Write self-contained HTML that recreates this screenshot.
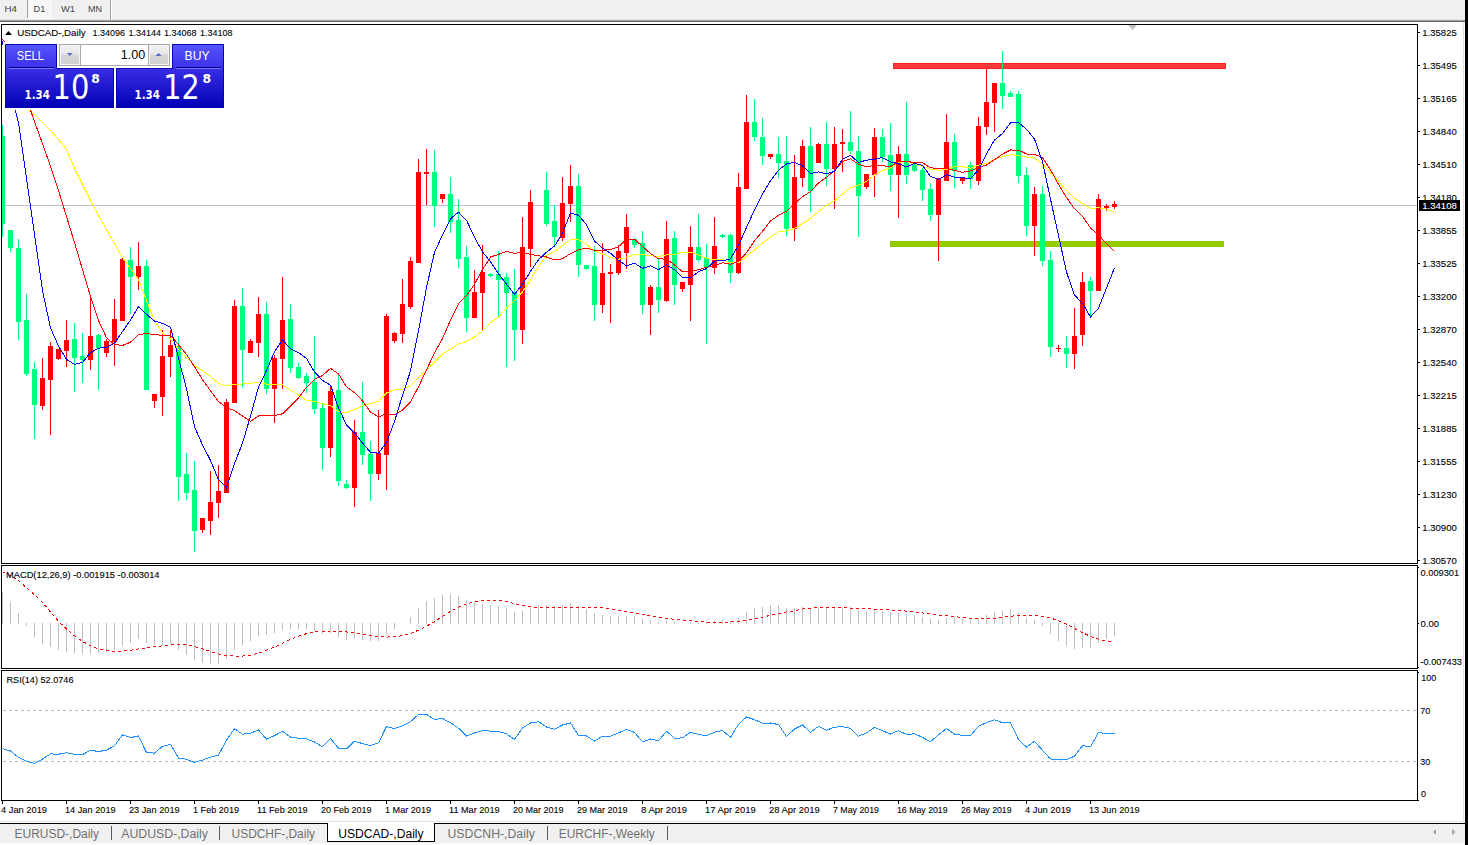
<!DOCTYPE html>
<html><head><meta charset="utf-8"><title>USDCAD-,Daily</title>
<style>html,body{margin:0;padding:0;background:#fff;overflow:hidden;width:1468px;height:845px}svg{display:block}</style>
</head><body>
<svg width="1468" height="845" viewBox="0 0 1468 845"><rect x="0" y="0" width="1468" height="845" fill="#ffffff" />
<rect x="0" y="0" width="1465" height="20" fill="#f0f0f0" />
<rect x="0" y="19" width="1465" height="1" fill="#e6e6e6" />
<rect x="0" y="20" width="1465" height="1" fill="#a0a0a0" />
<rect x="0" y="21" width="1465" height="1" fill="#6a6a6a" />
<defs><pattern id="chk" width="2" height="2" patternUnits="userSpaceOnUse"><rect width="2" height="2" fill="#f0f0f0"/><rect width="1" height="1" fill="#ffffff"/><rect x="1" y="1" width="1" height="1" fill="#ffffff"/></pattern><linearGradient id="sellTop" x1="0" y1="0" x2="0" y2="1"><stop offset="0" stop-color="#5656ff"/><stop offset="1" stop-color="#3c30e6"/></linearGradient><linearGradient id="sellBot" x1="0" y1="0" x2="0" y2="1"><stop offset="0" stop-color="#3a2ee6"/><stop offset="1" stop-color="#0000b4"/></linearGradient><linearGradient id="btn" x1="0" y1="0" x2="0" y2="1"><stop offset="0" stop-color="#f2f2f2"/><stop offset="0.45" stop-color="#e6e6e6"/><stop offset="0.5" stop-color="#d6d6d6"/><stop offset="1" stop-color="#d0d0d0"/></linearGradient></defs>
<rect x="28" y="0" width="24" height="18" fill="url(#chk)" />
<rect x="27" y="0" width="1" height="18" fill="#a0a0a0" />
<rect x="27" y="18" width="26" height="1" fill="#ffffff" />
<rect x="110" y="0" width="1" height="20" fill="#a0a0a0" />
<rect x="111" y="0" width="1" height="20" fill="#ffffff" />
<g font-family="Liberation Sans, sans-serif">
<text x="4.5" y="12" font-size="9.8" fill="#444444" textLength="12.5" lengthAdjust="spacingAndGlyphs" stroke="#444444" stroke-width="0.01" >H4</text>
<text x="33.5" y="12" font-size="9.8" fill="#444444" textLength="11.8" lengthAdjust="spacingAndGlyphs" stroke="#444444" stroke-width="0.01" >D1</text>
<text x="61" y="12" font-size="9.8" fill="#444444" textLength="14" lengthAdjust="spacingAndGlyphs" stroke="#444444" stroke-width="0.01" >W1</text>
<text x="88" y="12" font-size="9.8" fill="#444444" textLength="14" lengthAdjust="spacingAndGlyphs" stroke="#444444" stroke-width="0.01" >MN</text>
</g>
<rect x="1465" y="0" width="3" height="845" fill="#000000" />
<rect x="1463" y="22" width="1" height="800" fill="#e3e3e3" />
<rect x="0" y="821" width="1464" height="1" fill="#e3e3e3" />
<rect x="0" y="824" width="1465" height="21" fill="#f0f0f0" />
<rect x="0" y="843" width="1465" height="1" fill="#fafafa" />
<rect x="0" y="844" width="1465" height="1" fill="#fafafa" />
<rect x="0" y="823" width="1465" height="1" fill="#000000" />
<rect x="1" y="24" width="1417" height="1" fill="#000" />
<rect x="1" y="563" width="1417" height="1" fill="#000" />
<rect x="1" y="24" width="1" height="540" fill="#000" />
<rect x="1417" y="24" width="1" height="540" fill="#000" />
<rect x="1" y="565" width="1417" height="1" fill="#000" />
<rect x="1" y="668" width="1417" height="1" fill="#000" />
<rect x="1" y="565" width="1" height="104" fill="#000" />
<rect x="1417" y="565" width="1" height="104" fill="#000" />
<rect x="1" y="670" width="1417" height="1" fill="#000" />
<rect x="1" y="800" width="1417" height="1" fill="#000" />
<rect x="1" y="670" width="1" height="131" fill="#000" />
<rect x="1417" y="670" width="1" height="131" fill="#000" />
<clipPath id="cm"><rect x="2" y="25" width="1415" height="538"/></clipPath>
<g clip-path="url(#cm)" shape-rendering="crispEdges">
<rect x="2" y="205" width="1415" height="1" fill="#c0c0c0" />
<rect x="893" y="63" width="333" height="6" fill="#f83a3a" />
<rect x="893.5" y="63.5" width="332" height="5" fill="none" stroke="#ff2222" stroke-width="1"/>
<rect x="890" y="241" width="334" height="6" fill="#99cc00" />
<rect x="890.5" y="241.5" width="333" height="5" fill="none" stroke="#8cc800" stroke-width="1"/>
<rect x="2" y="125" width="1" height="112" fill="#00ff7f" />
<rect x="0" y="136" width="5" height="88" fill="#00ff7f" />
<rect x="10" y="230" width="1" height="22" fill="#00ff7f" />
<rect x="8" y="230" width="5" height="18" fill="#00ff7f" />
<rect x="18" y="239" width="1" height="101" fill="#00ff7f" />
<rect x="16" y="248" width="5" height="74" fill="#00ff7f" />
<rect x="26" y="294" width="1" height="82" fill="#00ff7f" />
<rect x="24" y="320" width="5" height="54" fill="#00ff7f" />
<rect x="34" y="362" width="1" height="77" fill="#00ff7f" />
<rect x="32" y="369" width="5" height="36" fill="#00ff7f" />
<rect x="42" y="358" width="1" height="52" fill="#ff0000" />
<rect x="40" y="378" width="5" height="28" fill="#ff0000" />
<rect x="50" y="342" width="1" height="93" fill="#ff0000" />
<rect x="48" y="346" width="5" height="34" fill="#ff0000" />
<rect x="58" y="349" width="1" height="11" fill="#ff0000" />
<rect x="56" y="349" width="5" height="10" fill="#ff0000" />
<rect x="66" y="320" width="1" height="47" fill="#ff0000" />
<rect x="64" y="340" width="5" height="11" fill="#ff0000" />
<rect x="74" y="323" width="1" height="69" fill="#00ff7f" />
<rect x="72" y="339" width="5" height="19" fill="#00ff7f" />
<rect x="82" y="333" width="1" height="50" fill="#00ff7f" />
<rect x="80" y="356" width="5" height="4" fill="#00ff7f" />
<rect x="90" y="297" width="1" height="73" fill="#ff0000" />
<rect x="88" y="336" width="5" height="24" fill="#ff0000" />
<rect x="98" y="334" width="1" height="56" fill="#00ff7f" />
<rect x="96" y="335" width="5" height="13" fill="#00ff7f" />
<rect x="106" y="339" width="1" height="18" fill="#ff0000" />
<rect x="104" y="341" width="5" height="12" fill="#ff0000" />
<rect x="114" y="299" width="1" height="67" fill="#ff0000" />
<rect x="112" y="319" width="5" height="23" fill="#ff0000" />
<rect x="122" y="258" width="1" height="63" fill="#ff0000" />
<rect x="120" y="259" width="5" height="62" fill="#ff0000" />
<rect x="130" y="247" width="1" height="67" fill="#00ff7f" />
<rect x="128" y="260" width="5" height="17" fill="#00ff7f" />
<rect x="138" y="242" width="1" height="48" fill="#ff0000" />
<rect x="136" y="266" width="5" height="11" fill="#ff0000" />
<rect x="146" y="260" width="1" height="130" fill="#00ff7f" />
<rect x="144" y="266" width="5" height="124" fill="#00ff7f" />
<rect x="154" y="394" width="1" height="14" fill="#ff0000" />
<rect x="152" y="394" width="5" height="7" fill="#ff0000" />
<rect x="162" y="330" width="1" height="86" fill="#ff0000" />
<rect x="160" y="356" width="5" height="41" fill="#ff0000" />
<rect x="170" y="330" width="1" height="47" fill="#ff0000" />
<rect x="168" y="345" width="5" height="12" fill="#ff0000" />
<rect x="178" y="336" width="1" height="165" fill="#00ff7f" />
<rect x="176" y="346" width="5" height="131" fill="#00ff7f" />
<rect x="186" y="453" width="1" height="47" fill="#00ff7f" />
<rect x="184" y="474" width="5" height="19" fill="#00ff7f" />
<rect x="194" y="461" width="1" height="91" fill="#00ff7f" />
<rect x="192" y="490" width="5" height="41" fill="#00ff7f" />
<rect x="202" y="518" width="1" height="15" fill="#ff0000" />
<rect x="200" y="518" width="5" height="12" fill="#ff0000" />
<rect x="210" y="471" width="1" height="64" fill="#ff0000" />
<rect x="208" y="502" width="5" height="19" fill="#ff0000" />
<rect x="218" y="465" width="1" height="53" fill="#ff0000" />
<rect x="216" y="491" width="5" height="12" fill="#ff0000" />
<rect x="226" y="399" width="1" height="94" fill="#ff0000" />
<rect x="224" y="402" width="5" height="91" fill="#ff0000" />
<rect x="234" y="300" width="1" height="103" fill="#ff0000" />
<rect x="232" y="306" width="5" height="97" fill="#ff0000" />
<rect x="242" y="288" width="1" height="99" fill="#00ff7f" />
<rect x="240" y="306" width="5" height="44" fill="#00ff7f" />
<rect x="250" y="339" width="1" height="14" fill="#ff0000" />
<rect x="248" y="341" width="5" height="12" fill="#ff0000" />
<rect x="258" y="297" width="1" height="60" fill="#ff0000" />
<rect x="256" y="314" width="5" height="29" fill="#ff0000" />
<rect x="266" y="302" width="1" height="92" fill="#00ff7f" />
<rect x="264" y="314" width="5" height="75" fill="#00ff7f" />
<rect x="274" y="355" width="1" height="68" fill="#ff0000" />
<rect x="272" y="358" width="5" height="31" fill="#ff0000" />
<rect x="282" y="277" width="1" height="112" fill="#ff0000" />
<rect x="280" y="320" width="5" height="39" fill="#ff0000" />
<rect x="290" y="304" width="1" height="69" fill="#00ff7f" />
<rect x="288" y="319" width="5" height="49" fill="#00ff7f" />
<rect x="298" y="363" width="1" height="16" fill="#00ff7f" />
<rect x="296" y="367" width="5" height="11" fill="#00ff7f" />
<rect x="306" y="373" width="1" height="20" fill="#00ff7f" />
<rect x="304" y="376" width="5" height="7" fill="#00ff7f" />
<rect x="314" y="336" width="1" height="78" fill="#00ff7f" />
<rect x="312" y="382" width="5" height="27" fill="#00ff7f" />
<rect x="322" y="404" width="1" height="66" fill="#00ff7f" />
<rect x="320" y="408" width="5" height="40" fill="#00ff7f" />
<rect x="330" y="385" width="1" height="72" fill="#ff0000" />
<rect x="328" y="391" width="5" height="57" fill="#ff0000" />
<rect x="338" y="375" width="1" height="111" fill="#00ff7f" />
<rect x="336" y="390" width="5" height="91" fill="#00ff7f" />
<rect x="346" y="480" width="1" height="9" fill="#00ff7f" />
<rect x="344" y="484" width="5" height="4" fill="#00ff7f" />
<rect x="354" y="420" width="1" height="87" fill="#ff0000" />
<rect x="352" y="432" width="5" height="56" fill="#ff0000" />
<rect x="362" y="382" width="1" height="83" fill="#00ff7f" />
<rect x="360" y="432" width="5" height="23" fill="#00ff7f" />
<rect x="370" y="441" width="1" height="60" fill="#00ff7f" />
<rect x="368" y="454" width="5" height="20" fill="#00ff7f" />
<rect x="378" y="410" width="1" height="70" fill="#ff0000" />
<rect x="376" y="453" width="5" height="21" fill="#ff0000" />
<rect x="386" y="314" width="1" height="176" fill="#ff0000" />
<rect x="384" y="316" width="5" height="139" fill="#ff0000" />
<rect x="394" y="332" width="1" height="11" fill="#ff0000" />
<rect x="392" y="333" width="5" height="8" fill="#ff0000" />
<rect x="402" y="279" width="1" height="64" fill="#ff0000" />
<rect x="400" y="304" width="5" height="30" fill="#ff0000" />
<rect x="410" y="257" width="1" height="52" fill="#ff0000" />
<rect x="408" y="261" width="5" height="46" fill="#ff0000" />
<rect x="418" y="159" width="1" height="104" fill="#ff0000" />
<rect x="416" y="172" width="5" height="91" fill="#ff0000" />
<rect x="426" y="149" width="1" height="56" fill="#ff0000" />
<rect x="424" y="172" width="5" height="2" fill="#ff0000" />
<rect x="434" y="150" width="1" height="77" fill="#00ff7f" />
<rect x="432" y="172" width="5" height="34" fill="#00ff7f" />
<rect x="442" y="194" width="1" height="9" fill="#ff0000" />
<rect x="440" y="194" width="5" height="5" fill="#ff0000" />
<rect x="450" y="177" width="1" height="56" fill="#00ff7f" />
<rect x="448" y="194" width="5" height="28" fill="#00ff7f" />
<rect x="458" y="199" width="1" height="69" fill="#00ff7f" />
<rect x="456" y="220" width="5" height="39" fill="#00ff7f" />
<rect x="466" y="246" width="1" height="86" fill="#00ff7f" />
<rect x="464" y="257" width="5" height="61" fill="#00ff7f" />
<rect x="474" y="270" width="1" height="48" fill="#ff0000" />
<rect x="472" y="292" width="5" height="26" fill="#ff0000" />
<rect x="482" y="245" width="1" height="85" fill="#ff0000" />
<rect x="480" y="272" width="5" height="21" fill="#ff0000" />
<rect x="490" y="273" width="1" height="4" fill="#00ff7f" />
<rect x="488" y="274" width="5" height="2" fill="#00ff7f" />
<rect x="498" y="251" width="1" height="66" fill="#00ff7f" />
<rect x="496" y="274" width="5" height="6" fill="#00ff7f" />
<rect x="506" y="273" width="1" height="94" fill="#00ff7f" />
<rect x="504" y="277" width="5" height="16" fill="#00ff7f" />
<rect x="514" y="269" width="1" height="92" fill="#00ff7f" />
<rect x="512" y="292" width="5" height="38" fill="#00ff7f" />
<rect x="522" y="217" width="1" height="127" fill="#ff0000" />
<rect x="520" y="247" width="5" height="83" fill="#ff0000" />
<rect x="530" y="190" width="1" height="77" fill="#ff0000" />
<rect x="528" y="202" width="5" height="47" fill="#ff0000" />
<rect x="546" y="172" width="1" height="54" fill="#00ff7f" />
<rect x="544" y="190" width="5" height="34" fill="#00ff7f" />
<rect x="554" y="205" width="1" height="41" fill="#00ff7f" />
<rect x="552" y="221" width="5" height="16" fill="#00ff7f" />
<rect x="562" y="177" width="1" height="64" fill="#ff0000" />
<rect x="560" y="203" width="5" height="35" fill="#ff0000" />
<rect x="570" y="165" width="1" height="57" fill="#ff0000" />
<rect x="568" y="186" width="5" height="18" fill="#ff0000" />
<rect x="578" y="174" width="1" height="103" fill="#00ff7f" />
<rect x="576" y="186" width="5" height="79" fill="#00ff7f" />
<rect x="586" y="265" width="1" height="5" fill="#00ff7f" />
<rect x="584" y="265" width="5" height="4" fill="#00ff7f" />
<rect x="594" y="246" width="1" height="75" fill="#00ff7f" />
<rect x="592" y="266" width="5" height="39" fill="#00ff7f" />
<rect x="602" y="243" width="1" height="70" fill="#ff0000" />
<rect x="600" y="273" width="5" height="32" fill="#ff0000" />
<rect x="610" y="264" width="1" height="59" fill="#ff0000" />
<rect x="608" y="272" width="5" height="2" fill="#ff0000" />
<rect x="618" y="245" width="1" height="30" fill="#ff0000" />
<rect x="616" y="251" width="5" height="22" fill="#ff0000" />
<rect x="626" y="214" width="1" height="55" fill="#ff0000" />
<rect x="624" y="227" width="5" height="26" fill="#ff0000" />
<rect x="634" y="238" width="1" height="10" fill="#00ff7f" />
<rect x="632" y="239" width="5" height="6" fill="#00ff7f" />
<rect x="642" y="231" width="1" height="83" fill="#00ff7f" />
<rect x="640" y="243" width="5" height="62" fill="#00ff7f" />
<rect x="650" y="285" width="1" height="50" fill="#ff0000" />
<rect x="648" y="287" width="5" height="18" fill="#ff0000" />
<rect x="658" y="258" width="1" height="55" fill="#00ff7f" />
<rect x="656" y="287" width="5" height="13" fill="#00ff7f" />
<rect x="666" y="221" width="1" height="81" fill="#ff0000" />
<rect x="664" y="239" width="5" height="62" fill="#ff0000" />
<rect x="674" y="231" width="1" height="74" fill="#00ff7f" />
<rect x="672" y="238" width="5" height="47" fill="#00ff7f" />
<rect x="682" y="282" width="1" height="10" fill="#ff0000" />
<rect x="680" y="282" width="5" height="7" fill="#ff0000" />
<rect x="690" y="226" width="1" height="95" fill="#ff0000" />
<rect x="688" y="247" width="5" height="38" fill="#ff0000" />
<rect x="698" y="214" width="1" height="48" fill="#00ff7f" />
<rect x="696" y="247" width="5" height="13" fill="#00ff7f" />
<rect x="706" y="244" width="1" height="100" fill="#00ff7f" />
<rect x="704" y="258" width="5" height="10" fill="#00ff7f" />
<rect x="714" y="217" width="1" height="57" fill="#ff0000" />
<rect x="712" y="246" width="5" height="22" fill="#ff0000" />
<rect x="722" y="234" width="1" height="4" fill="#00ff7f" />
<rect x="720" y="235" width="5" height="2" fill="#00ff7f" />
<rect x="730" y="234" width="1" height="49" fill="#00ff7f" />
<rect x="728" y="235" width="5" height="38" fill="#00ff7f" />
<rect x="738" y="173" width="1" height="101" fill="#ff0000" />
<rect x="736" y="187" width="5" height="86" fill="#ff0000" />
<rect x="746" y="95" width="1" height="94" fill="#ff0000" />
<rect x="744" y="122" width="5" height="67" fill="#ff0000" />
<rect x="754" y="99" width="1" height="42" fill="#00ff7f" />
<rect x="752" y="122" width="5" height="15" fill="#00ff7f" />
<rect x="762" y="118" width="1" height="47" fill="#00ff7f" />
<rect x="760" y="137" width="5" height="19" fill="#00ff7f" />
<rect x="770" y="154" width="1" height="5" fill="#ff0000" />
<rect x="768" y="154" width="5" height="3" fill="#ff0000" />
<rect x="778" y="137" width="1" height="41" fill="#00ff7f" />
<rect x="776" y="154" width="5" height="9" fill="#00ff7f" />
<rect x="786" y="136" width="1" height="100" fill="#00ff7f" />
<rect x="784" y="161" width="5" height="68" fill="#00ff7f" />
<rect x="794" y="155" width="1" height="86" fill="#ff0000" />
<rect x="792" y="177" width="5" height="52" fill="#ff0000" />
<rect x="802" y="140" width="1" height="47" fill="#ff0000" />
<rect x="800" y="146" width="5" height="32" fill="#ff0000" />
<rect x="810" y="127" width="1" height="85" fill="#00ff7f" />
<rect x="808" y="146" width="5" height="45" fill="#00ff7f" />
<rect x="818" y="143" width="1" height="20" fill="#ff0000" />
<rect x="816" y="144" width="5" height="19" fill="#ff0000" />
<rect x="826" y="122" width="1" height="64" fill="#00ff7f" />
<rect x="824" y="144" width="5" height="25" fill="#00ff7f" />
<rect x="834" y="127" width="1" height="82" fill="#ff0000" />
<rect x="832" y="144" width="5" height="25" fill="#ff0000" />
<rect x="842" y="129" width="1" height="43" fill="#ff0000" />
<rect x="840" y="142" width="5" height="2" fill="#ff0000" />
<rect x="850" y="111" width="1" height="43" fill="#00ff7f" />
<rect x="848" y="142" width="5" height="9" fill="#00ff7f" />
<rect x="858" y="136" width="1" height="101" fill="#00ff7f" />
<rect x="856" y="151" width="5" height="45" fill="#00ff7f" />
<rect x="866" y="174" width="1" height="15" fill="#ff0000" />
<rect x="864" y="174" width="5" height="13" fill="#ff0000" />
<rect x="874" y="128" width="1" height="69" fill="#ff0000" />
<rect x="872" y="137" width="5" height="38" fill="#ff0000" />
<rect x="882" y="129" width="1" height="33" fill="#00ff7f" />
<rect x="880" y="137" width="5" height="20" fill="#00ff7f" />
<rect x="890" y="123" width="1" height="68" fill="#00ff7f" />
<rect x="888" y="155" width="5" height="20" fill="#00ff7f" />
<rect x="898" y="146" width="1" height="72" fill="#ff0000" />
<rect x="896" y="154" width="5" height="21" fill="#ff0000" />
<rect x="906" y="102" width="1" height="82" fill="#00ff7f" />
<rect x="904" y="154" width="5" height="21" fill="#00ff7f" />
<rect x="914" y="162" width="1" height="10" fill="#00ff7f" />
<rect x="912" y="162" width="5" height="9" fill="#00ff7f" />
<rect x="922" y="168" width="1" height="33" fill="#00ff7f" />
<rect x="920" y="170" width="5" height="20" fill="#00ff7f" />
<rect x="930" y="183" width="1" height="38" fill="#00ff7f" />
<rect x="928" y="189" width="5" height="26" fill="#00ff7f" />
<rect x="938" y="178" width="1" height="83" fill="#ff0000" />
<rect x="936" y="178" width="5" height="37" fill="#ff0000" />
<rect x="946" y="114" width="1" height="67" fill="#ff0000" />
<rect x="944" y="142" width="5" height="39" fill="#ff0000" />
<rect x="954" y="134" width="1" height="54" fill="#00ff7f" />
<rect x="952" y="142" width="5" height="29" fill="#00ff7f" />
<rect x="962" y="178" width="1" height="6" fill="#ff0000" />
<rect x="960" y="178" width="5" height="3" fill="#ff0000" />
<rect x="970" y="162" width="1" height="27" fill="#00ff7f" />
<rect x="968" y="165" width="5" height="14" fill="#00ff7f" />
<rect x="978" y="117" width="1" height="68" fill="#ff0000" />
<rect x="976" y="126" width="5" height="55" fill="#ff0000" />
<rect x="986" y="69" width="1" height="66" fill="#ff0000" />
<rect x="984" y="102" width="5" height="25" fill="#ff0000" />
<rect x="994" y="83" width="1" height="49" fill="#ff0000" />
<rect x="992" y="83" width="5" height="20" fill="#ff0000" />
<rect x="1002" y="51" width="1" height="58" fill="#00ff7f" />
<rect x="1000" y="83" width="5" height="13" fill="#00ff7f" />
<rect x="1010" y="91" width="1" height="6" fill="#00ff7f" />
<rect x="1008" y="93" width="5" height="4" fill="#00ff7f" />
<rect x="1018" y="91" width="1" height="92" fill="#00ff7f" />
<rect x="1016" y="94" width="5" height="82" fill="#00ff7f" />
<rect x="1026" y="167" width="1" height="69" fill="#00ff7f" />
<rect x="1024" y="175" width="5" height="51" fill="#00ff7f" />
<rect x="1034" y="187" width="1" height="69" fill="#ff0000" />
<rect x="1032" y="194" width="5" height="32" fill="#ff0000" />
<rect x="1042" y="186" width="1" height="80" fill="#00ff7f" />
<rect x="1040" y="194" width="5" height="67" fill="#00ff7f" />
<rect x="1050" y="251" width="1" height="106" fill="#00ff7f" />
<rect x="1048" y="260" width="5" height="87" fill="#00ff7f" />
<rect x="1058" y="345" width="1" height="7" fill="#ff0000" />
<rect x="1056" y="348" width="5" height="1" fill="#ff0000" />
<rect x="1066" y="336" width="1" height="32" fill="#00ff7f" />
<rect x="1064" y="348" width="5" height="6" fill="#00ff7f" />
<rect x="1074" y="308" width="1" height="61" fill="#ff0000" />
<rect x="1072" y="336" width="5" height="18" fill="#ff0000" />
<rect x="1082" y="272" width="1" height="74" fill="#ff0000" />
<rect x="1080" y="282" width="5" height="53" fill="#ff0000" />
<rect x="1090" y="277" width="1" height="40" fill="#00ff7f" />
<rect x="1088" y="281" width="5" height="10" fill="#00ff7f" />
<rect x="1098" y="194" width="1" height="97" fill="#ff0000" />
<rect x="1096" y="199" width="5" height="92" fill="#ff0000" />
<rect x="1106" y="204" width="1" height="7" fill="#ff0000" />
<rect x="1104" y="206" width="5" height="2" fill="#ff0000" />
<rect x="1114" y="201" width="1" height="8" fill="#ff0000" />
<rect x="1112" y="204" width="5" height="3" fill="#ff0000" />
<polyline points="2.5,98.5 10.5,102.0 18.5,105.5 26.5,109.0 34.5,114.5 42.5,122.5 50.5,130.5 58.5,139.5 66.5,149.5 74.5,168.5 82.5,184.5 90.5,200.5 98.5,215.5 106.5,229.5 114.5,243.5 122.5,257.5 130.5,268.5 138.5,279.5 146.5,300.5 154.5,320.5 162.5,332.9 170.5,338.7 178.5,349.6 186.5,357.8 194.5,365.3 202.5,370.7 210.5,376.6 218.5,383.5 226.5,386.0 234.5,384.4 242.5,384.0 250.5,383.2 258.5,382.1 266.5,384.1 274.5,384.9 282.5,384.9 290.5,390.1 298.5,394.9 306.5,400.4 314.5,401.3 322.5,403.8 330.5,405.5 338.5,411.9 346.5,412.4 354.5,409.5 362.5,405.9 370.5,403.7 378.5,401.4 386.5,393.0 394.5,389.8 402.5,389.7 410.5,385.5 418.5,377.4 426.5,370.6 434.5,361.9 442.5,354.1 450.5,349.4 458.5,344.2 466.5,341.3 474.5,337.0 482.5,330.6 490.5,322.4 498.5,317.1 506.5,308.1 514.5,300.6 522.5,291.8 530.5,279.8 538.5,266.4 546.5,255.4 554.5,251.6 562.5,245.4 570.5,239.8 578.5,239.9 586.5,244.5 594.5,250.8 602.5,254.0 610.5,257.8 618.5,259.2 626.5,257.7 634.5,254.3 642.5,254.8 650.5,255.5 658.5,256.7 666.5,254.8 674.5,254.4 682.5,252.2 690.5,252.2 698.5,254.9 706.5,258.5 714.5,259.6 722.5,259.6 730.5,262.9 738.5,263.0 746.5,256.2 754.5,249.9 762.5,242.9 770.5,237.2 778.5,231.9 786.5,230.8 794.5,228.4 802.5,223.8 810.5,218.3 818.5,211.5 826.5,205.3 834.5,200.7 842.5,194.0 850.5,187.7 858.5,185.2 866.5,181.2 874.5,175.0 882.5,170.8 890.5,167.8 898.5,162.2 906.5,161.6 914.5,163.9 922.5,166.4 930.5,169.1 938.5,170.3 946.5,169.4 954.5,166.6 962.5,166.6 970.5,168.2 978.5,165.1 986.5,163.1 994.5,159.1 1002.5,156.7 1010.5,154.5 1018.5,155.7 1026.5,157.1 1034.5,158.0 1042.5,163.9 1050.5,172.9 1058.5,181.2 1066.5,190.7 1074.5,198.4 1082.5,203.7 1090.5,208.5 1098.5,207.8 1106.5,209.2 1114.5,212.2" fill="none" stroke="#ffff00" stroke-width="1"/>
<polyline points="2.5,39.5 10.5,47.5 18.5,72.5 26.5,98.7 34.5,121.5 42.5,143.5 50.5,166.5 58.5,190.5 66.5,216.5 74.5,242.5 82.5,269.5 90.5,296.5 98.5,320.5 106.5,337.7 114.5,344.6 122.5,345.4 130.5,342.2 138.5,334.6 146.5,333.5 154.5,334.6 162.5,335.4 170.5,335.1 178.5,344.8 186.5,354.4 194.5,366.7 202.5,379.7 210.5,390.8 218.5,401.5 226.5,407.4 234.5,410.8 242.5,416.0 250.5,421.4 258.5,416.0 266.5,415.5 274.5,415.6 282.5,413.8 290.5,406.1 298.5,397.9 306.5,387.3 314.5,379.4 322.5,375.5 330.5,368.4 338.5,373.9 346.5,386.8 354.5,392.7 362.5,400.8 370.5,412.1 378.5,416.8 386.5,413.8 394.5,414.7 402.5,410.2 410.5,401.9 418.5,386.8 426.5,370.0 434.5,352.7 442.5,338.6 450.5,320.2 458.5,303.8 466.5,295.6 474.5,284.1 482.5,269.7 490.5,257.0 498.5,254.4 506.5,251.5 514.5,253.3 522.5,252.3 530.5,254.4 538.5,255.7 546.5,257.0 554.5,260.0 562.5,258.7 570.5,253.6 578.5,249.8 586.5,248.1 594.5,250.3 602.5,250.2 610.5,249.7 618.5,246.7 626.5,239.4 634.5,239.2 642.5,246.5 650.5,253.5 658.5,258.9 666.5,259.1 674.5,264.9 682.5,271.8 690.5,270.6 698.5,269.9 706.5,267.3 714.5,265.4 722.5,262.8 730.5,264.3 738.5,261.4 746.5,252.7 754.5,240.7 762.5,231.3 770.5,221.0 778.5,215.4 786.5,211.4 794.5,203.8 802.5,196.6 810.5,191.7 818.5,182.9 826.5,177.3 834.5,170.8 842.5,161.5 850.5,158.9 858.5,164.1 866.5,166.8 874.5,165.5 882.5,165.7 890.5,166.6 898.5,161.3 906.5,161.1 914.5,162.9 922.5,162.8 930.5,167.8 938.5,168.5 946.5,168.3 954.5,170.3 962.5,172.3 970.5,171.0 978.5,167.6 986.5,165.0 994.5,159.8 1002.5,154.1 1010.5,150.0 1018.5,150.1 1026.5,154.0 1034.5,154.3 1042.5,157.6 1050.5,169.7 1058.5,184.4 1066.5,197.5 1074.5,208.8 1082.5,216.2 1090.5,228.0 1098.5,234.9 1106.5,243.7 1114.5,251.5" fill="none" stroke="#ff0000" stroke-width="1"/>
<polyline points="2.5,41.5 10.5,91.5 18.5,122.5 26.5,178.5 34.5,234.5 42.5,290.5 50.5,328.0 58.5,346.0 66.5,359.3 74.5,364.4 82.5,362.4 90.5,352.6 98.5,348.2 106.5,347.4 114.5,343.1 122.5,331.6 130.5,320.0 138.5,306.7 146.5,314.3 154.5,321.1 162.5,323.4 170.5,327.1 178.5,358.0 186.5,388.9 194.5,426.7 202.5,445.0 210.5,460.4 218.5,479.6 226.5,487.8 234.5,463.5 242.5,443.1 250.5,416.1 258.5,387.0 266.5,370.6 274.5,351.6 282.5,339.9 290.5,348.7 298.5,352.6 306.5,358.5 314.5,371.9 322.5,380.4 330.5,385.1 338.5,407.9 346.5,424.9 354.5,432.8 362.5,443.0 370.5,452.3 378.5,453.2 386.5,442.4 394.5,421.5 402.5,395.4 410.5,370.9 418.5,330.7 426.5,287.7 434.5,252.3 442.5,234.9 450.5,218.8 458.5,212.2 466.5,220.2 474.5,237.4 482.5,251.8 490.5,261.8 498.5,273.9 506.5,284.1 514.5,294.3 522.5,284.3 530.5,271.4 538.5,259.7 546.5,252.2 554.5,246.1 562.5,233.3 570.5,212.8 578.5,215.3 586.5,224.7 594.5,241.0 602.5,248.2 610.5,253.3 618.5,260.2 626.5,266.0 634.5,263.2 642.5,268.3 650.5,265.9 658.5,269.7 666.5,264.9 674.5,269.7 682.5,277.6 690.5,278.0 698.5,271.6 706.5,268.6 714.5,261.1 722.5,260.7 730.5,258.9 738.5,245.3 746.5,227.4 754.5,209.9 762.5,194.0 770.5,180.8 778.5,170.2 786.5,163.9 794.5,162.4 802.5,165.8 810.5,173.5 818.5,171.9 826.5,173.8 834.5,171.4 842.5,159.1 850.5,155.4 858.5,162.4 866.5,160.2 874.5,159.2 882.5,157.6 890.5,161.9 898.5,163.6 906.5,166.9 914.5,163.3 922.5,165.5 930.5,176.4 938.5,179.5 946.5,174.8 954.5,177.1 962.5,177.7 970.5,178.7 978.5,169.7 986.5,153.7 994.5,140.1 1002.5,133.4 1010.5,122.8 1018.5,122.5 1026.5,129.2 1034.5,139.0 1042.5,161.6 1050.5,199.2 1058.5,235.3 1066.5,272.1 1074.5,295.1 1082.5,303.3 1090.5,316.9 1098.5,308.2 1106.5,288.2 1114.5,267.7" fill="none" stroke="#0000ff" stroke-width="1"/>
</g>
<polygon points="1128,25 1137,25 1132.5,30" fill="#c0c0c0"/>
<clipPath id="cmacd"><rect x="2" y="566" width="1415" height="102"/></clipPath>
<g clip-path="url(#cmacd)" shape-rendering="crispEdges">
<rect x="2" y="592" width="1" height="32" fill="#c0c0c0" />
<rect x="10" y="602" width="1" height="22" fill="#c0c0c0" />
<rect x="18" y="613" width="1" height="11" fill="#c0c0c0" />
<rect x="26" y="623" width="1" height="3" fill="#c0c0c0" />
<rect x="34" y="623" width="1" height="14" fill="#c0c0c0" />
<rect x="42" y="623" width="1" height="21" fill="#c0c0c0" />
<rect x="50" y="623" width="1" height="24" fill="#c0c0c0" />
<rect x="58" y="623" width="1" height="27" fill="#c0c0c0" />
<rect x="66" y="623" width="1" height="29" fill="#c0c0c0" />
<rect x="74" y="623" width="1" height="30" fill="#c0c0c0" />
<rect x="82" y="623" width="1" height="31" fill="#c0c0c0" />
<rect x="90" y="623" width="1" height="31" fill="#c0c0c0" />
<rect x="98" y="623" width="1" height="30" fill="#c0c0c0" />
<rect x="106" y="623" width="1" height="29" fill="#c0c0c0" />
<rect x="114" y="623" width="1" height="27" fill="#c0c0c0" />
<rect x="122" y="623" width="1" height="23" fill="#c0c0c0" />
<rect x="130" y="623" width="1" height="20" fill="#c0c0c0" />
<rect x="138" y="623" width="1" height="16" fill="#c0c0c0" />
<rect x="146" y="623" width="1" height="20" fill="#c0c0c0" />
<rect x="154" y="623" width="1" height="22" fill="#c0c0c0" />
<rect x="162" y="623" width="1" height="22" fill="#c0c0c0" />
<rect x="170" y="623" width="1" height="21" fill="#c0c0c0" />
<rect x="178" y="623" width="1" height="27" fill="#c0c0c0" />
<rect x="186" y="623" width="1" height="32" fill="#c0c0c0" />
<rect x="194" y="623" width="1" height="37" fill="#c0c0c0" />
<rect x="202" y="623" width="1" height="40" fill="#c0c0c0" />
<rect x="210" y="623" width="1" height="41" fill="#c0c0c0" />
<rect x="218" y="623" width="1" height="41" fill="#c0c0c0" />
<rect x="226" y="623" width="1" height="36" fill="#c0c0c0" />
<rect x="234" y="623" width="1" height="27" fill="#c0c0c0" />
<rect x="242" y="623" width="1" height="22" fill="#c0c0c0" />
<rect x="250" y="623" width="1" height="18" fill="#c0c0c0" />
<rect x="258" y="623" width="1" height="13" fill="#c0c0c0" />
<rect x="266" y="623" width="1" height="12" fill="#c0c0c0" />
<rect x="274" y="623" width="1" height="10" fill="#c0c0c0" />
<rect x="282" y="623" width="1" height="7" fill="#c0c0c0" />
<rect x="290" y="623" width="1" height="6" fill="#c0c0c0" />
<rect x="298" y="623" width="1" height="6" fill="#c0c0c0" />
<rect x="306" y="623" width="1" height="6" fill="#c0c0c0" />
<rect x="314" y="623" width="1" height="8" fill="#c0c0c0" />
<rect x="322" y="623" width="1" height="11" fill="#c0c0c0" />
<rect x="330" y="623" width="1" height="10" fill="#c0c0c0" />
<rect x="338" y="623" width="1" height="14" fill="#c0c0c0" />
<rect x="346" y="623" width="1" height="17" fill="#c0c0c0" />
<rect x="354" y="623" width="1" height="16" fill="#c0c0c0" />
<rect x="362" y="623" width="1" height="17" fill="#c0c0c0" />
<rect x="370" y="623" width="1" height="18" fill="#c0c0c0" />
<rect x="378" y="623" width="1" height="18" fill="#c0c0c0" />
<rect x="386" y="623" width="1" height="11" fill="#c0c0c0" />
<rect x="394" y="623" width="1" height="6" fill="#c0c0c0" />
<rect x="410" y="617" width="1" height="7" fill="#c0c0c0" />
<rect x="418" y="608" width="1" height="16" fill="#c0c0c0" />
<rect x="426" y="601" width="1" height="23" fill="#c0c0c0" />
<rect x="434" y="598" width="1" height="26" fill="#c0c0c0" />
<rect x="442" y="595" width="1" height="29" fill="#c0c0c0" />
<rect x="450" y="594" width="1" height="30" fill="#c0c0c0" />
<rect x="458" y="596" width="1" height="28" fill="#c0c0c0" />
<rect x="466" y="600" width="1" height="24" fill="#c0c0c0" />
<rect x="474" y="602" width="1" height="22" fill="#c0c0c0" />
<rect x="482" y="604" width="1" height="20" fill="#c0c0c0" />
<rect x="490" y="605" width="1" height="19" fill="#c0c0c0" />
<rect x="498" y="606" width="1" height="18" fill="#c0c0c0" />
<rect x="506" y="608" width="1" height="16" fill="#c0c0c0" />
<rect x="514" y="612" width="1" height="12" fill="#c0c0c0" />
<rect x="522" y="611" width="1" height="13" fill="#c0c0c0" />
<rect x="530" y="608" width="1" height="16" fill="#c0c0c0" />
<rect x="538" y="605" width="1" height="19" fill="#c0c0c0" />
<rect x="546" y="605" width="1" height="19" fill="#c0c0c0" />
<rect x="554" y="606" width="1" height="18" fill="#c0c0c0" />
<rect x="562" y="605" width="1" height="19" fill="#c0c0c0" />
<rect x="570" y="603" width="1" height="21" fill="#c0c0c0" />
<rect x="578" y="606" width="1" height="18" fill="#c0c0c0" />
<rect x="586" y="609" width="1" height="15" fill="#c0c0c0" />
<rect x="594" y="613" width="1" height="11" fill="#c0c0c0" />
<rect x="602" y="615" width="1" height="9" fill="#c0c0c0" />
<rect x="610" y="616" width="1" height="8" fill="#c0c0c0" />
<rect x="618" y="616" width="1" height="8" fill="#c0c0c0" />
<rect x="626" y="616" width="1" height="8" fill="#c0c0c0" />
<rect x="634" y="616" width="1" height="8" fill="#c0c0c0" />
<rect x="642" y="619" width="1" height="5" fill="#c0c0c0" />
<rect x="650" y="620" width="1" height="4" fill="#c0c0c0" />
<rect x="658" y="622" width="1" height="2" fill="#c0c0c0" />
<rect x="666" y="621" width="1" height="3" fill="#c0c0c0" />
<rect x="674" y="622" width="1" height="2" fill="#c0c0c0" />
<rect x="690" y="622" width="1" height="2" fill="#c0c0c0" />
<rect x="698" y="622" width="1" height="2" fill="#c0c0c0" />
<rect x="706" y="622" width="1" height="2" fill="#c0c0c0" />
<rect x="714" y="621" width="1" height="3" fill="#c0c0c0" />
<rect x="722" y="620" width="1" height="4" fill="#c0c0c0" />
<rect x="730" y="621" width="1" height="3" fill="#c0c0c0" />
<rect x="738" y="618" width="1" height="6" fill="#c0c0c0" />
<rect x="746" y="612" width="1" height="12" fill="#c0c0c0" />
<rect x="754" y="608" width="1" height="16" fill="#c0c0c0" />
<rect x="762" y="607" width="1" height="17" fill="#c0c0c0" />
<rect x="770" y="605" width="1" height="19" fill="#c0c0c0" />
<rect x="778" y="605" width="1" height="19" fill="#c0c0c0" />
<rect x="786" y="608" width="1" height="16" fill="#c0c0c0" />
<rect x="794" y="608" width="1" height="16" fill="#c0c0c0" />
<rect x="802" y="607" width="1" height="17" fill="#c0c0c0" />
<rect x="810" y="608" width="1" height="16" fill="#c0c0c0" />
<rect x="818" y="607" width="1" height="17" fill="#c0c0c0" />
<rect x="826" y="608" width="1" height="16" fill="#c0c0c0" />
<rect x="834" y="607" width="1" height="17" fill="#c0c0c0" />
<rect x="842" y="607" width="1" height="17" fill="#c0c0c0" />
<rect x="850" y="607" width="1" height="17" fill="#c0c0c0" />
<rect x="858" y="610" width="1" height="14" fill="#c0c0c0" />
<rect x="866" y="611" width="1" height="13" fill="#c0c0c0" />
<rect x="874" y="610" width="1" height="14" fill="#c0c0c0" />
<rect x="882" y="611" width="1" height="13" fill="#c0c0c0" />
<rect x="890" y="612" width="1" height="12" fill="#c0c0c0" />
<rect x="898" y="613" width="1" height="11" fill="#c0c0c0" />
<rect x="906" y="614" width="1" height="10" fill="#c0c0c0" />
<rect x="914" y="615" width="1" height="9" fill="#c0c0c0" />
<rect x="922" y="617" width="1" height="7" fill="#c0c0c0" />
<rect x="930" y="619" width="1" height="5" fill="#c0c0c0" />
<rect x="938" y="620" width="1" height="4" fill="#c0c0c0" />
<rect x="946" y="618" width="1" height="6" fill="#c0c0c0" />
<rect x="954" y="618" width="1" height="6" fill="#c0c0c0" />
<rect x="962" y="619" width="1" height="5" fill="#c0c0c0" />
<rect x="970" y="620" width="1" height="4" fill="#c0c0c0" />
<rect x="978" y="618" width="1" height="6" fill="#c0c0c0" />
<rect x="986" y="615" width="1" height="9" fill="#c0c0c0" />
<rect x="994" y="612" width="1" height="12" fill="#c0c0c0" />
<rect x="1002" y="611" width="1" height="13" fill="#c0c0c0" />
<rect x="1010" y="610" width="1" height="14" fill="#c0c0c0" />
<rect x="1018" y="613" width="1" height="11" fill="#c0c0c0" />
<rect x="1026" y="618" width="1" height="6" fill="#c0c0c0" />
<rect x="1034" y="620" width="1" height="4" fill="#c0c0c0" />
<rect x="1042" y="623" width="1" height="3" fill="#c0c0c0" />
<rect x="1050" y="623" width="1" height="11" fill="#c0c0c0" />
<rect x="1058" y="623" width="1" height="18" fill="#c0c0c0" />
<rect x="1066" y="623" width="1" height="23" fill="#c0c0c0" />
<rect x="1074" y="623" width="1" height="26" fill="#c0c0c0" />
<rect x="1082" y="623" width="1" height="25" fill="#c0c0c0" />
<rect x="1090" y="623" width="1" height="25" fill="#c0c0c0" />
<rect x="1098" y="623" width="1" height="20" fill="#c0c0c0" />
<rect x="1106" y="623" width="1" height="16" fill="#c0c0c0" />
<rect x="1114" y="623" width="1" height="13" fill="#c0c0c0" />
<polyline points="2.5,571.7 10.5,576.0 18.5,580.6 26.5,587.8 34.5,594.9 42.5,602.4 50.5,611.9 58.5,621.3 66.5,629.0 74.5,635.7 82.5,641.4 90.5,645.8 98.5,648.8 106.5,650.6 114.5,651.3 122.5,651.2 130.5,650.3 138.5,649.0 146.5,647.8 154.5,646.8 162.5,645.8 170.5,644.8 178.5,644.6 186.5,645.0 194.5,646.5 202.5,648.8 210.5,651.5 218.5,653.9 226.5,655.4 234.5,656.0 242.5,656.1 250.5,655.1 258.5,653.1 266.5,650.3 274.5,647.1 282.5,643.3 290.5,639.4 298.5,636.1 306.5,633.7 314.5,632.1 322.5,631.3 330.5,631.0 338.5,631.1 346.5,631.9 354.5,632.9 362.5,634.1 370.5,635.5 378.5,636.7 386.5,637.1 394.5,636.7 402.5,635.7 410.5,633.6 418.5,630.2 426.5,626.1 434.5,621.6 442.5,616.5 450.5,611.4 458.5,607.3 466.5,604.1 474.5,601.8 482.5,600.3 490.5,600.0 498.5,600.5 506.5,601.7 514.5,603.6 522.5,605.4 530.5,606.8 538.5,607.4 546.5,607.7 554.5,607.9 562.5,607.9 570.5,607.5 578.5,607.3 586.5,607.0 594.5,607.2 602.5,608.0 610.5,609.2 618.5,610.5 626.5,611.6 634.5,612.8 642.5,614.5 650.5,616.1 658.5,617.5 666.5,618.4 674.5,619.3 682.5,620.0 690.5,620.6 698.5,621.3 706.5,622.0 714.5,622.2 722.5,622.2 730.5,622.0 738.5,621.6 746.5,620.5 754.5,618.9 762.5,617.2 770.5,615.3 778.5,613.5 786.5,612.0 794.5,610.7 802.5,609.1 810.5,608.1 818.5,607.6 826.5,607.5 834.5,607.6 842.5,607.8 850.5,608.1 858.5,608.3 866.5,608.7 874.5,609.1 882.5,609.4 890.5,609.9 898.5,610.4 906.5,611.2 914.5,612.0 922.5,613.0 930.5,614.1 938.5,615.0 946.5,615.8 954.5,616.7 962.5,617.4 970.5,618.2 978.5,618.6 986.5,618.7 994.5,618.2 1002.5,617.3 1010.5,616.2 1018.5,615.6 1026.5,615.5 1034.5,615.6 1042.5,616.2 1050.5,618.0 1058.5,620.7 1066.5,624.3 1074.5,628.5 1082.5,632.6 1090.5,636.4 1098.5,639.1 1106.5,641.0 1114.5,642.1" fill="none" stroke="#ff0000" stroke-width="1" stroke-dasharray="3,3"/>
</g>
<g shape-rendering="crispEdges">
<line x1="3" y1="710.5" x2="1417" y2="710.5" stroke="#b8b8b8" stroke-dasharray="3,3"/>
<line x1="3" y1="761.5" x2="1417" y2="761.5" stroke="#b8b8b8" stroke-dasharray="3,3"/>
<polyline points="2.5,748.7 10.5,751.0 18.5,757.4 26.5,761.3 34.5,763.4 42.5,759.0 50.5,753.9 58.5,754.2 66.5,752.7 74.5,754.4 82.5,754.6 90.5,750.2 98.5,751.5 106.5,750.2 114.5,745.7 122.5,735.0 130.5,737.6 138.5,736.0 146.5,752.6 154.5,753.1 162.5,746.3 170.5,744.3 178.5,758.0 186.5,759.3 194.5,762.4 202.5,760.1 210.5,757.1 218.5,755.0 226.5,740.3 234.5,728.7 242.5,734.2 250.5,733.2 258.5,730.0 266.5,739.2 274.5,735.6 282.5,731.2 290.5,737.1 298.5,738.2 306.5,738.9 314.5,742.0 322.5,746.7 330.5,738.5 338.5,748.2 346.5,748.9 354.5,741.2 362.5,743.6 370.5,745.7 378.5,742.8 386.5,726.5 394.5,728.7 402.5,725.8 410.5,721.7 418.5,714.4 426.5,714.4 434.5,719.5 442.5,718.5 450.5,722.7 458.5,728.2 466.5,736.0 474.5,733.0 482.5,730.7 490.5,731.1 498.5,731.6 506.5,733.8 514.5,739.4 522.5,728.0 530.5,723.0 538.5,721.7 546.5,727.1 554.5,729.2 562.5,725.0 570.5,723.0 578.5,735.4 586.5,736.0 594.5,741.0 602.5,736.3 610.5,736.2 618.5,732.9 626.5,729.3 634.5,732.4 642.5,741.8 650.5,739.0 658.5,740.8 666.5,731.2 674.5,738.2 682.5,737.9 690.5,732.3 698.5,734.4 706.5,735.7 714.5,732.2 722.5,730.5 730.5,737.3 738.5,724.3 746.5,717.0 754.5,719.7 762.5,723.2 770.5,723.0 778.5,724.6 786.5,736.4 794.5,729.0 802.5,725.0 810.5,732.3 818.5,726.4 826.5,730.2 834.5,727.1 842.5,726.8 850.5,728.3 858.5,736.2 866.5,732.9 874.5,727.4 882.5,730.8 890.5,734.0 898.5,730.7 906.5,734.4 914.5,733.8 922.5,737.4 930.5,741.7 938.5,734.8 946.5,728.6 954.5,734.1 962.5,735.5 970.5,735.5 978.5,726.3 986.5,722.6 994.5,719.9 1002.5,722.7 1010.5,722.9 1018.5,739.5 1026.5,747.1 1034.5,741.3 1042.5,750.3 1050.5,759.0 1058.5,759.1 1066.5,759.6 1074.5,756.2 1082.5,745.7 1090.5,746.7 1098.5,732.5 1106.5,733.6 1114.5,733.3" fill="none" stroke="#1e90ff" stroke-width="1"/>
</g>
<g shape-rendering="crispEdges">
<rect x="1418" y="32" width="2" height="1" fill="#000" />
<rect x="1418" y="65" width="2" height="1" fill="#000" />
<rect x="1418" y="98" width="2" height="1" fill="#000" />
<rect x="1418" y="131" width="2" height="1" fill="#000" />
<rect x="1418" y="164" width="2" height="1" fill="#000" />
<rect x="1418" y="197" width="2" height="1" fill="#000" />
<rect x="1418" y="230" width="2" height="1" fill="#000" />
<rect x="1418" y="263" width="2" height="1" fill="#000" />
<rect x="1418" y="296" width="2" height="1" fill="#000" />
<rect x="1418" y="329" width="2" height="1" fill="#000" />
<rect x="1418" y="362" width="2" height="1" fill="#000" />
<rect x="1418" y="395" width="2" height="1" fill="#000" />
<rect x="1418" y="428" width="2" height="1" fill="#000" />
<rect x="1418" y="461" width="2" height="1" fill="#000" />
<rect x="1418" y="494" width="2" height="1" fill="#000" />
<rect x="1418" y="527" width="2" height="1" fill="#000" />
<rect x="1418" y="560" width="2" height="1" fill="#000" />
</g>
<g font-family="Liberation Sans, sans-serif">
<text x="1422.3" y="36" font-size="9.6" fill="#000" textLength="34.5" lengthAdjust="spacingAndGlyphs" stroke="#000" stroke-width="0.1" >1.35825</text>
<text x="1422.3" y="69" font-size="9.6" fill="#000" textLength="34.5" lengthAdjust="spacingAndGlyphs" stroke="#000" stroke-width="0.1" >1.35495</text>
<text x="1422.3" y="102" font-size="9.6" fill="#000" textLength="34.5" lengthAdjust="spacingAndGlyphs" stroke="#000" stroke-width="0.1" >1.35165</text>
<text x="1422.3" y="135" font-size="9.6" fill="#000" textLength="34.5" lengthAdjust="spacingAndGlyphs" stroke="#000" stroke-width="0.1" >1.34840</text>
<text x="1422.3" y="168" font-size="9.6" fill="#000" textLength="34.5" lengthAdjust="spacingAndGlyphs" stroke="#000" stroke-width="0.1" >1.34510</text>
<text x="1422.3" y="201" font-size="9.6" fill="#000" textLength="34.5" lengthAdjust="spacingAndGlyphs" stroke="#000" stroke-width="0.1" >1.34180</text>
<text x="1422.3" y="234" font-size="9.6" fill="#000" textLength="34.5" lengthAdjust="spacingAndGlyphs" stroke="#000" stroke-width="0.1" >1.33855</text>
<text x="1422.3" y="267" font-size="9.6" fill="#000" textLength="34.5" lengthAdjust="spacingAndGlyphs" stroke="#000" stroke-width="0.1" >1.33525</text>
<text x="1422.3" y="300" font-size="9.6" fill="#000" textLength="34.5" lengthAdjust="spacingAndGlyphs" stroke="#000" stroke-width="0.1" >1.33200</text>
<text x="1422.3" y="333" font-size="9.6" fill="#000" textLength="34.5" lengthAdjust="spacingAndGlyphs" stroke="#000" stroke-width="0.1" >1.32870</text>
<text x="1422.3" y="366" font-size="9.6" fill="#000" textLength="34.5" lengthAdjust="spacingAndGlyphs" stroke="#000" stroke-width="0.1" >1.32540</text>
<text x="1422.3" y="399" font-size="9.6" fill="#000" textLength="34.5" lengthAdjust="spacingAndGlyphs" stroke="#000" stroke-width="0.1" >1.32215</text>
<text x="1422.3" y="432" font-size="9.6" fill="#000" textLength="34.5" lengthAdjust="spacingAndGlyphs" stroke="#000" stroke-width="0.1" >1.31885</text>
<text x="1422.3" y="465" font-size="9.6" fill="#000" textLength="34.5" lengthAdjust="spacingAndGlyphs" stroke="#000" stroke-width="0.1" >1.31555</text>
<text x="1422.3" y="498" font-size="9.6" fill="#000" textLength="34.5" lengthAdjust="spacingAndGlyphs" stroke="#000" stroke-width="0.1" >1.31230</text>
<text x="1422.3" y="531" font-size="9.6" fill="#000" textLength="34.5" lengthAdjust="spacingAndGlyphs" stroke="#000" stroke-width="0.1" >1.30900</text>
<text x="1422.3" y="564" font-size="9.6" fill="#000" textLength="34.5" lengthAdjust="spacingAndGlyphs" stroke="#000" stroke-width="0.1" >1.30570</text>
<rect x="1419" y="200" width="41" height="11" fill="#000" />
<text x="1422.3" y="209" font-size="9.6" fill="#fff" textLength="34.5" lengthAdjust="spacingAndGlyphs" stroke="#fff" stroke-width="0.1" >1.34108</text>
<text x="1420.6" y="576" font-size="9.6" fill="#000" textLength="38.5" lengthAdjust="spacingAndGlyphs" stroke="#000" stroke-width="0.1" >0.009301</text>
<text x="1420.6" y="627" font-size="9.6" fill="#000" textLength="18.5" lengthAdjust="spacingAndGlyphs" stroke="#000" stroke-width="0.1" >0.00</text>
<text x="1420.4" y="665" font-size="9.6" fill="#000" textLength="41.5" lengthAdjust="spacingAndGlyphs" stroke="#000" stroke-width="0.1" >-0.007433</text>
<text x="1421.2" y="681" font-size="9.6" fill="#000" textLength="15" lengthAdjust="spacingAndGlyphs" stroke="#000" stroke-width="0.1" >100</text>
<text x="1420.2" y="714" font-size="9.6" fill="#000" textLength="10" lengthAdjust="spacingAndGlyphs" stroke="#000" stroke-width="0.1" >70</text>
<text x="1420.2" y="765" font-size="9.6" fill="#000" textLength="10" lengthAdjust="spacingAndGlyphs" stroke="#000" stroke-width="0.1" >30</text>
<text x="1421" y="797" font-size="9.6" fill="#000" textLength="5" lengthAdjust="spacingAndGlyphs" stroke="#000" stroke-width="0.1" >0</text>
</g>
<g shape-rendering="crispEdges">
<rect x="1418" y="567" width="1" height="1" fill="#000" />
<rect x="1418" y="623" width="1" height="1" fill="#000" />
<rect x="1418" y="667" width="1" height="1" fill="#000" />
<rect x="1418" y="672" width="1" height="1" fill="#000" />
<rect x="1418" y="800" width="1" height="1" fill="#000" />
<rect x="2" y="801" width="1" height="3" fill="#000" />
<rect x="66" y="801" width="1" height="3" fill="#000" />
<rect x="130" y="801" width="1" height="3" fill="#000" />
<rect x="194" y="801" width="1" height="3" fill="#000" />
<rect x="258" y="801" width="1" height="3" fill="#000" />
<rect x="322" y="801" width="1" height="3" fill="#000" />
<rect x="386" y="801" width="1" height="3" fill="#000" />
<rect x="450" y="801" width="1" height="3" fill="#000" />
<rect x="514" y="801" width="1" height="3" fill="#000" />
<rect x="578" y="801" width="1" height="3" fill="#000" />
<rect x="642" y="801" width="1" height="3" fill="#000" />
<rect x="706" y="801" width="1" height="3" fill="#000" />
<rect x="770" y="801" width="1" height="3" fill="#000" />
<rect x="834" y="801" width="1" height="3" fill="#000" />
<rect x="898" y="801" width="1" height="3" fill="#000" />
<rect x="962" y="801" width="1" height="3" fill="#000" />
<rect x="1026" y="801" width="1" height="3" fill="#000" />
<rect x="1090" y="801" width="1" height="3" fill="#000" />
</g>
<g font-family="Liberation Sans, sans-serif">
<text x="1" y="813" font-size="9.6" fill="#000" textLength="46.0" lengthAdjust="spacingAndGlyphs" stroke="#000" stroke-width="0.1" >4 Jan 2019</text>
<text x="65" y="813" font-size="9.6" fill="#000" textLength="50.6" lengthAdjust="spacingAndGlyphs" stroke="#000" stroke-width="0.1" >14 Jan 2019</text>
<text x="129" y="813" font-size="9.6" fill="#000" textLength="50.6" lengthAdjust="spacingAndGlyphs" stroke="#000" stroke-width="0.1" >23 Jan 2019</text>
<text x="193" y="813" font-size="9.6" fill="#000" textLength="46.0" lengthAdjust="spacingAndGlyphs" stroke="#000" stroke-width="0.1" >1 Feb 2019</text>
<text x="257" y="813" font-size="9.6" fill="#000" textLength="50.6" lengthAdjust="spacingAndGlyphs" stroke="#000" stroke-width="0.1" >11 Feb 2019</text>
<text x="321" y="813" font-size="9.6" fill="#000" textLength="50.6" lengthAdjust="spacingAndGlyphs" stroke="#000" stroke-width="0.1" >20 Feb 2019</text>
<text x="385" y="813" font-size="9.6" fill="#000" textLength="46.0" lengthAdjust="spacingAndGlyphs" stroke="#000" stroke-width="0.1" >1 Mar 2019</text>
<text x="449" y="813" font-size="9.6" fill="#000" textLength="50.6" lengthAdjust="spacingAndGlyphs" stroke="#000" stroke-width="0.1" >11 Mar 2019</text>
<text x="513" y="813" font-size="9.6" fill="#000" textLength="50.6" lengthAdjust="spacingAndGlyphs" stroke="#000" stroke-width="0.1" >20 Mar 2019</text>
<text x="577" y="813" font-size="9.6" fill="#000" textLength="50.6" lengthAdjust="spacingAndGlyphs" stroke="#000" stroke-width="0.1" >29 Mar 2019</text>
<text x="641" y="813" font-size="9.6" fill="#000" textLength="46.0" lengthAdjust="spacingAndGlyphs" stroke="#000" stroke-width="0.1" >8 Apr 2019</text>
<text x="705" y="813" font-size="9.6" fill="#000" textLength="50.6" lengthAdjust="spacingAndGlyphs" stroke="#000" stroke-width="0.1" >17 Apr 2019</text>
<text x="769" y="813" font-size="9.6" fill="#000" textLength="50.6" lengthAdjust="spacingAndGlyphs" stroke="#000" stroke-width="0.1" >28 Apr 2019</text>
<text x="833" y="813" font-size="9.6" fill="#000" textLength="46.0" lengthAdjust="spacingAndGlyphs" stroke="#000" stroke-width="0.1" >7 May 2019</text>
<text x="897" y="813" font-size="9.6" fill="#000" textLength="50.6" lengthAdjust="spacingAndGlyphs" stroke="#000" stroke-width="0.1" >16 May 2019</text>
<text x="961" y="813" font-size="9.6" fill="#000" textLength="50.6" lengthAdjust="spacingAndGlyphs" stroke="#000" stroke-width="0.1" >26 May 2019</text>
<text x="1025" y="813" font-size="9.6" fill="#000" textLength="46.0" lengthAdjust="spacingAndGlyphs" stroke="#000" stroke-width="0.1" >4 Jun 2019</text>
<text x="1089" y="813" font-size="9.6" fill="#000" textLength="50.6" lengthAdjust="spacingAndGlyphs" stroke="#000" stroke-width="0.1" >13 Jun 2019</text>
</g>
<polygon points="5,35 12,35 8.5,31" fill="#000"/>
<g font-family="Liberation Sans, sans-serif">
<text x="17.2" y="36" font-size="9.6" fill="#000" textLength="68.5" lengthAdjust="spacingAndGlyphs" stroke="#000" stroke-width="0.1" >USDCAD-,Daily</text>
<text x="92.5" y="36" font-size="9.6" fill="#000" textLength="32.5" lengthAdjust="spacingAndGlyphs" stroke="#000" stroke-width="0.1" >1.34096</text>
<text x="128.5" y="36" font-size="9.6" fill="#000" textLength="32.5" lengthAdjust="spacingAndGlyphs" stroke="#000" stroke-width="0.1" >1.34144</text>
<text x="164" y="36" font-size="9.6" fill="#000" textLength="32.5" lengthAdjust="spacingAndGlyphs" stroke="#000" stroke-width="0.1" >1.34068</text>
<text x="200" y="36" font-size="9.6" fill="#000" textLength="32.5" lengthAdjust="spacingAndGlyphs" stroke="#000" stroke-width="0.1" >1.34108</text>
<text x="6" y="578" font-size="9.6" fill="#000" textLength="153.5" lengthAdjust="spacingAndGlyphs" stroke="#000" stroke-width="0.12" >MACD(12,26,9) -0.001915 -0.003014</text>
<text x="6.5" y="683" font-size="9.6" fill="#000" textLength="67" lengthAdjust="spacingAndGlyphs" stroke="#000" stroke-width="0.12" >RSI(14) 52.0746</text>
</g>
<rect x="3" y="42" width="223" height="68" fill="#ffffff" />
<rect x="5" y="44" width="52" height="24" fill="url(#sellTop)" />
<rect x="172" y="44" width="52" height="24" fill="url(#sellTop)" />
<rect x="5" y="68" width="109" height="40" fill="url(#sellBot)" />
<rect x="116" y="68" width="108" height="40" fill="url(#sellBot)" />
<path d="M5.5,107.5 V44.5 H56.5 V68.5 H113.5 V107.5 Z" fill="none" stroke="#0606b0"/>
<path d="M116.5,107.5 V68.5 H172.5 V44.5 H223.5 V107.5 Z" fill="none" stroke="#0606b0"/>
<rect x="9" y="67" width="45" height="1" fill="#000090" />
<rect x="9" y="68" width="45" height="1" fill="#7474ff" />
<rect x="176" y="67" width="45" height="1" fill="#000090" />
<rect x="176" y="68" width="45" height="1" fill="#7474ff" />
<rect x="59" y="44" width="111" height="22" fill="#ffffff" />
<rect x="59.5" y="44.5" width="110" height="21" fill="none" stroke="#a8a8a8"/>
<rect x="61" y="46" width="18" height="18" fill="url(#btn)" />
<rect x="60.5" y="45.5" width="19" height="19" fill="none" stroke="#f4f4f4"/>
<rect x="80" y="45" width="1" height="20" fill="#a8a8a8" />
<rect x="150" y="46" width="18" height="18" fill="url(#btn)" />
<rect x="149.5" y="45.5" width="19" height="19" fill="none" stroke="#f4f4f4"/>
<rect x="148" y="45" width="1" height="20" fill="#a8a8a8" />
<polygon points="67,53 72.5,53 69.75,56" fill="#5a6acc"/>
<polygon points="155.5,56 161.5,56 158.5,53" fill="#5a6acc"/>
<g font-family="Liberation Sans, sans-serif">
<text x="120.7" y="59" font-size="12" fill="#000" textLength="24.5" lengthAdjust="spacingAndGlyphs" >1.00</text>
<text x="16.8" y="60" font-size="12.5" fill="#fff" textLength="27" lengthAdjust="spacingAndGlyphs" >SELL</text>
<text x="184.6" y="60" font-size="12.5" fill="#fff" textLength="25" lengthAdjust="spacingAndGlyphs" >BUY</text>
</g>
<g font-family="DejaVu Sans, Liberation Sans, sans-serif" font-weight="bold">
<text x="24.6" y="99" font-size="12" fill="#fff" textLength="25.3" lengthAdjust="spacingAndGlyphs" >1.34</text>
<text x="134.6" y="99" font-size="12" fill="#fff" textLength="25.3" lengthAdjust="spacingAndGlyphs" >1.34</text>
</g>
<g font-family="DejaVu Sans, Liberation Sans, sans-serif">
<text x="52.6" y="99" font-size="33" fill="#fff" textLength="36.8" lengthAdjust="spacingAndGlyphs" >10</text>
<text x="163.3" y="99" font-size="33" fill="#fff" textLength="36.5" lengthAdjust="spacingAndGlyphs" >12</text>
<text x="91.3" y="83" font-size="12" fill="#fff" textLength="8.6" lengthAdjust="spacingAndGlyphs" font-weight="bold">8</text>
<text x="202.5" y="83" font-size="12" fill="#fff" textLength="8.6" lengthAdjust="spacingAndGlyphs" font-weight="bold">8</text>
</g>
<rect x="327" y="823" width="108" height="19" fill="#ffffff" />
<rect x="327" y="823" width="1" height="19" fill="#000" />
<rect x="434" y="823" width="1" height="19" fill="#000" />
<rect x="327" y="841" width="108" height="1" fill="#000" />
<g font-family="Liberation Sans, sans-serif">
<text x="14.5" y="838" font-size="12.5" fill="#707070" textLength="84.5" lengthAdjust="spacingAndGlyphs" >EURUSD-,Daily</text>
<text x="121.3" y="838" font-size="12.5" fill="#707070" textLength="86.6" lengthAdjust="spacingAndGlyphs" >AUDUSD-,Daily</text>
<text x="231.6" y="838" font-size="12.5" fill="#707070" textLength="83.4" lengthAdjust="spacingAndGlyphs" >USDCHF-,Daily</text>
<text x="338.2" y="838" font-size="12.5" fill="#000000" textLength="85.4" lengthAdjust="spacingAndGlyphs" >USDCAD-,Daily</text>
<text x="447.5" y="838" font-size="12.5" fill="#707070" textLength="87.3" lengthAdjust="spacingAndGlyphs" >USDCNH-,Daily</text>
<text x="558.7" y="838" font-size="12.5" fill="#707070" textLength="96.1" lengthAdjust="spacingAndGlyphs" >EURCHF-,Weekly</text>
</g>
<g shape-rendering="crispEdges">
<rect x="111" y="826" width="1" height="14" fill="#5a5a5a" />
<rect x="219" y="826" width="1" height="14" fill="#5a5a5a" />
<rect x="547" y="826" width="1" height="14" fill="#5a5a5a" />
<rect x="667" y="826" width="1" height="14" fill="#5a5a5a" />
</g>
<polygon points="1436,829 1436,835 1433,832" fill="#a0a0a0"/>
<polygon points="1452,829 1452,835 1455.5,832" fill="#a0a0a0"/></svg>
</body></html>
